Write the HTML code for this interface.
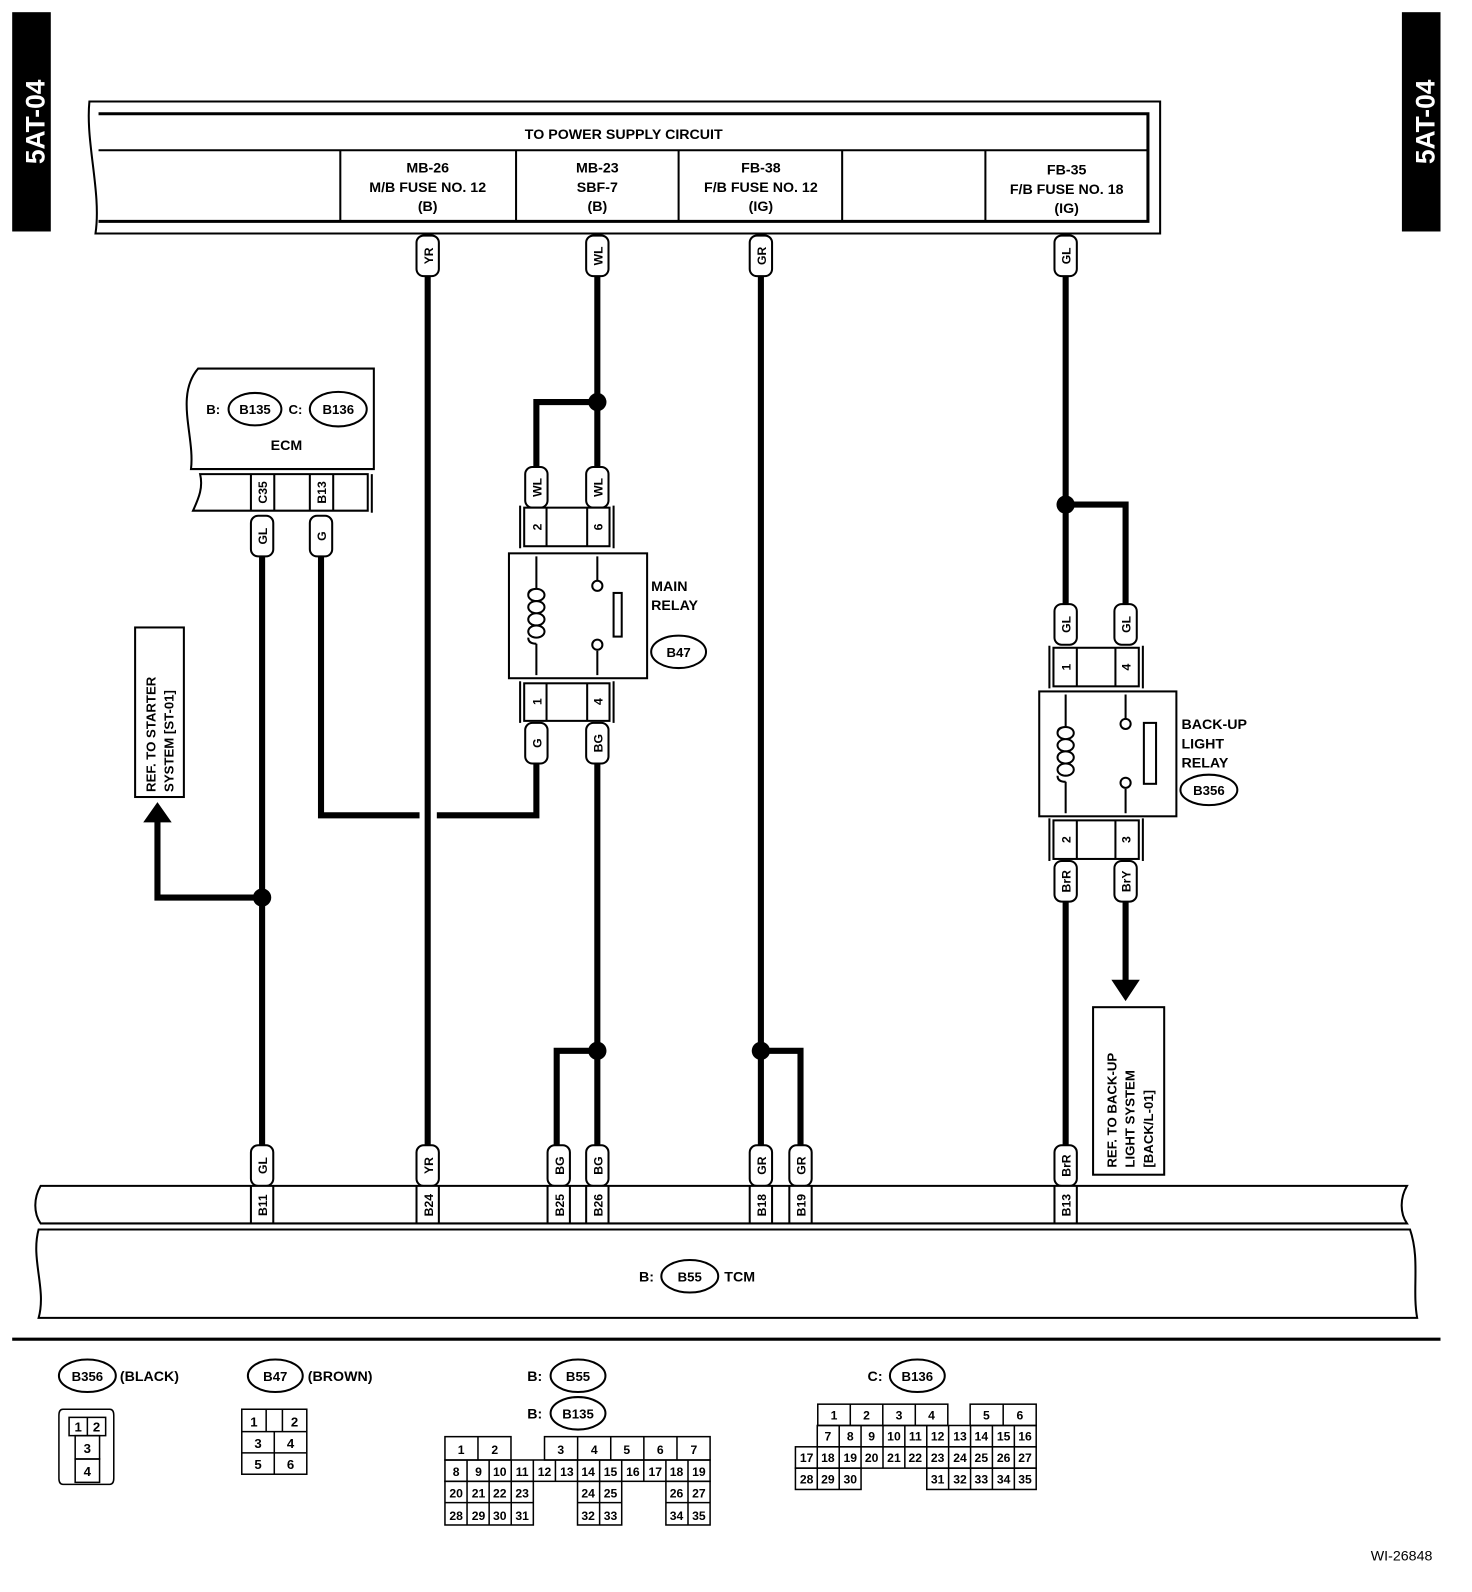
<!DOCTYPE html>
<html><head><meta charset="utf-8"><style>
html,body{margin:0;padding:0;background:#fff}
svg{display:block}
text{font-family:"Liberation Sans",sans-serif;font-weight:bold;fill:#000}
</style></head><body>
<svg width="1472" height="1592" viewBox="0 0 1449 1568" preserveAspectRatio="none" xmlns="http://www.w3.org/2000/svg">
<g font-size="13">
<rect x="12" y="12" width="38" height="216" fill="#000"/>
<text transform="translate(44,120) rotate(-90)" text-anchor="middle" font-size="26" style="fill:#fff">5AT-04</text>
<rect x="1380" y="12" width="38" height="216" fill="#000"/>
<text transform="translate(1412,120) rotate(-90)" text-anchor="middle" font-size="26" style="fill:#fff">5AT-04</text>

<path d="M88,100 L1142,100 L1142,230 L94,230 C100,190 84,140 88,100 Z" fill="none" stroke="#000" stroke-width="2"/>
<path d="M97,112 L1130,112 L1130,218 L97,218" fill="none" stroke="#000" stroke-width="3"/>
<line x1="97" y1="148" x2="1130" y2="148" stroke="#000" stroke-width="2"/>
<g stroke="#000" stroke-width="2">
<line x1="335" y1="148" x2="335" y2="218"/><line x1="508" y1="148" x2="508" y2="218"/>
<line x1="668" y1="148" x2="668" y2="218"/><line x1="829" y1="148" x2="829" y2="218"/>
<line x1="970" y1="148" x2="970" y2="218"/>
</g>
<g text-anchor="middle" font-size="14">
<text x="614" y="137">TO POWER SUPPLY CIRCUIT</text>
<text x="421" y="170">MB-26</text><text x="421" y="189">M/B FUSE NO. 12</text><text x="421" y="208">(B)</text>
<text x="588" y="170">MB-23</text><text x="588" y="189">SBF-7</text><text x="588" y="208">(B)</text>
<text x="749" y="170">FB-38</text><text x="749" y="189">F/B FUSE NO. 12</text><text x="749" y="208">(IG)</text>
<text x="1050" y="172">FB-35</text><text x="1050" y="191">F/B FUSE NO. 18</text><text x="1050" y="210">(IG)</text>
</g>

<g stroke="#000" stroke-width="6" fill="none">
<line x1="421" y1="270" x2="421" y2="1130"/>
<line x1="588" y1="270" x2="588" y2="462"/>
<polyline points="528,462 528,396 588,396"/>
<line x1="749" y1="270" x2="749" y2="1130"/>
<line x1="1049" y1="270" x2="1049" y2="597"/>
<polyline points="1049,497 1108,497 1108,597"/>
<line x1="258" y1="546" x2="258" y2="1130"/>
<polyline points="316,546 316,803 413,803"/>
<polyline points="430,803 528,803 528,750"/>
<polyline points="258,884 155,884 155,808"/>
<line x1="588" y1="750" x2="588" y2="1130"/>
<polyline points="588,1035 548,1035 548,1130"/>
<polyline points="749,1035 788,1035 788,1130"/>
<line x1="1049" y1="886" x2="1049" y2="1130"/>
<line x1="1108" y1="886" x2="1108" y2="968"/>
</g>
<polygon points="141,810 169,810 155,790" fill="#000"/>
<polygon points="1094,965 1122,965 1108,986" fill="#000"/>
<g fill="#000">
<circle cx="588" cy="396" r="9"/><circle cx="1049" cy="497" r="9"/>
<circle cx="258" cy="884" r="9"/><circle cx="588" cy="1035" r="9"/><circle cx="749" cy="1035" r="9"/>
</g>

<g font-size="12">
<g fill="#fff" stroke="#000" stroke-width="2">
<rect x="410" y="232" width="22" height="40" rx="7"/><rect x="577" y="232" width="22" height="40" rx="7"/>
<rect x="738" y="232" width="22" height="40" rx="7"/><rect x="1038" y="232" width="22" height="40" rx="7"/>
<rect x="517" y="460" width="22" height="40" rx="7"/><rect x="577" y="460" width="22" height="40" rx="7"/>
<rect x="247" y="508" width="22" height="40" rx="7"/><rect x="305" y="508" width="22" height="40" rx="7"/>
<rect x="517" y="712" width="22" height="40" rx="7"/><rect x="577" y="712" width="22" height="40" rx="7"/>
<rect x="1038" y="595" width="22" height="40" rx="7"/><rect x="1097" y="595" width="22" height="40" rx="7"/>
<rect x="1038" y="848" width="22" height="40" rx="7"/><rect x="1097" y="848" width="22" height="40" rx="7"/>
<rect x="247" y="1128" width="22" height="40" rx="7"/><rect x="410" y="1128" width="22" height="40" rx="7"/>
<rect x="539" y="1128" width="22" height="40" rx="7"/><rect x="577" y="1128" width="22" height="40" rx="7"/>
<rect x="738" y="1128" width="22" height="40" rx="7"/><rect x="777" y="1128" width="22" height="40" rx="7"/>
<rect x="1038" y="1128" width="22" height="40" rx="7"/>
</g>
<g text-anchor="middle">
<text transform="translate(426,252) rotate(-90)">YR</text>
<text transform="translate(593,252) rotate(-90)">WL</text>
<text transform="translate(754,252) rotate(-90)">GR</text>
<text transform="translate(1054,252) rotate(-90)">GL</text>
<text transform="translate(533,480) rotate(-90)">WL</text>
<text transform="translate(593,480) rotate(-90)">WL</text>
<text transform="translate(263,528) rotate(-90)">GL</text>
<text transform="translate(321,528) rotate(-90)">G</text>
<text transform="translate(533,732) rotate(-90)">G</text>
<text transform="translate(593,732) rotate(-90)">BG</text>
<text transform="translate(1054,615) rotate(-90)">GL</text>
<text transform="translate(1113,615) rotate(-90)">GL</text>
<text transform="translate(1054,868) rotate(-90)">BrR</text>
<text transform="translate(1113,868) rotate(-90)">BrY</text>
<text transform="translate(263,1148) rotate(-90)">GL</text>
<text transform="translate(426,1148) rotate(-90)">YR</text>
<text transform="translate(555,1148) rotate(-90)">BG</text>
<text transform="translate(593,1148) rotate(-90)">BG</text>
<text transform="translate(754,1148) rotate(-90)">GR</text>
<text transform="translate(793,1148) rotate(-90)">GR</text>
<text transform="translate(1054,1148) rotate(-90)">BrR</text>
</g>
</g>

<path d="M195,363 L368,363 L368,462 L188,462 C192,430 172,390 195,363 Z" fill="#fff" stroke="#000" stroke-width="2"/>
<text x="203" y="408" font-size="13">B:</text>
<ellipse cx="251" cy="403" rx="26" ry="16" fill="none" stroke="#000" stroke-width="2"/>
<text x="251" y="408" text-anchor="middle" font-size="13">B135</text>
<text x="284" y="408" font-size="13">C:</text>
<ellipse cx="333" cy="403" rx="28" ry="17" fill="none" stroke="#000" stroke-width="2"/>
<text x="333" y="408" text-anchor="middle" font-size="13">B136</text>
<text x="282" y="443" text-anchor="middle" font-size="14">ECM</text>
<path d="M197,467 L362,467 L362,503 L190,503 C196,490 200,480 197,467 Z" fill="#fff" stroke="#000" stroke-width="2"/>
<line x1="366" y1="467" x2="366" y2="505" stroke="#000" stroke-width="2"/>
<g stroke="#000" stroke-width="2"><line x1="247" y1="467" x2="247" y2="503"/><line x1="270" y1="467" x2="270" y2="503"/><line x1="305" y1="467" x2="305" y2="503"/><line x1="328" y1="467" x2="328" y2="503"/></g>
<text transform="translate(263,485) rotate(-90)" text-anchor="middle" font-size="12">C35</text>
<text transform="translate(321,485) rotate(-90)" text-anchor="middle" font-size="12">B13</text>

<rect x="133" y="618" width="48" height="167" fill="#fff" stroke="#000" stroke-width="2"/>
<text transform="translate(153,780) rotate(-90)" font-size="13">REF. TO STARTER</text>
<text transform="translate(171,780) rotate(-90)" font-size="13">SYSTEM [ST-01]</text>

<g stroke="#000" stroke-width="2" fill="#fff">
<rect x="516" y="500" width="84" height="38"/><line x1="512" y1="498" x2="512" y2="540"/><line x1="604" y1="498" x2="604" y2="540"/>
<line x1="538" y1="500" x2="538" y2="538"/><line x1="578" y1="500" x2="578" y2="538"/>
<rect x="501" y="545" width="136" height="123"/>
<rect x="516" y="673" width="84" height="37"/><line x1="512" y1="671" x2="512" y2="712"/><line x1="604" y1="671" x2="604" y2="712"/>
<line x1="538" y1="673" x2="538" y2="710"/><line x1="578" y1="673" x2="578" y2="710"/>
<path d="M528,548 L528,580 M528,634 L528,665 M588,548 L588,572 M588,641 L588,665" fill="none"/>
<path d="M528,580 q-8,0 -8,6 M520,586 a8,6 0 1 0 16,0 a8,6 0 1 0 -16,0 M520,598 a8,6 0 1 0 16,0 a8,6 0 1 0 -16,0 M520,610 a8,6 0 1 0 16,0 a8,6 0 1 0 -16,0 M520,622 a8,6 0 1 0 16,0 a8,6 0 1 0 -16,0 M520,628 q0,6 8,6" fill="none"/>
<circle cx="588" cy="577" r="5"/><circle cx="588" cy="635" r="5"/>
<rect x="604" y="584" width="8" height="43"/>
</g>
<g font-size="12" text-anchor="middle">
<text transform="translate(533,519) rotate(-90)">2</text><text transform="translate(593,519) rotate(-90)">6</text>
<text transform="translate(533,691) rotate(-90)">1</text><text transform="translate(593,691) rotate(-90)">4</text>
</g>
<text x="641" y="582" font-size="14">MAIN</text><text x="641" y="601" font-size="14">RELAY</text>
<ellipse cx="668" cy="642" rx="27" ry="16" fill="none" stroke="#000" stroke-width="2"/>
<text x="668" y="647" text-anchor="middle" font-size="13">B47</text>

<g stroke="#000" stroke-width="2" fill="#fff">
<rect x="1037" y="638" width="84" height="38"/><line x1="1033" y1="636" x2="1033" y2="678"/><line x1="1125" y1="636" x2="1125" y2="678"/>
<line x1="1060" y1="638" x2="1060" y2="676"/><line x1="1098" y1="638" x2="1098" y2="676"/>
<rect x="1023" y="681" width="135" height="123"/>
<rect x="1037" y="808" width="84" height="38"/><line x1="1033" y1="806" x2="1033" y2="848"/><line x1="1125" y1="806" x2="1125" y2="848"/>
<line x1="1060" y1="808" x2="1060" y2="846"/><line x1="1098" y1="808" x2="1098" y2="846"/>
<path d="M1049,684 L1049,716 M1049,770 L1049,801 M1108,684 L1108,708 M1108,777 L1108,801" fill="none"/>
<path d="M1049,716 q-8,0 -8,6 M1041,722 a8,6 0 1 0 16,0 a8,6 0 1 0 -16,0 M1041,734 a8,6 0 1 0 16,0 a8,6 0 1 0 -16,0 M1041,746 a8,6 0 1 0 16,0 a8,6 0 1 0 -16,0 M1041,758 a8,6 0 1 0 16,0 a8,6 0 1 0 -16,0 M1041,764 q0,6 8,6" fill="none"/>
<circle cx="1108" cy="713" r="5"/><circle cx="1108" cy="771" r="5"/>
<rect x="1126" y="712" width="12" height="60"/>
</g>
<g font-size="12" text-anchor="middle">
<text transform="translate(1054,657) rotate(-90)">1</text><text transform="translate(1113,657) rotate(-90)">4</text>
<text transform="translate(1054,827) rotate(-90)">2</text><text transform="translate(1113,827) rotate(-90)">3</text>
</g>
<text x="1163" y="718" font-size="14">BACK-UP</text><text x="1163" y="737" font-size="14">LIGHT</text><text x="1163" y="756" font-size="14">RELAY</text>
<ellipse cx="1190" cy="778" rx="28" ry="15" fill="none" stroke="#000" stroke-width="2"/>
<text x="1190" y="783" text-anchor="middle" font-size="13">B356</text>

<rect x="1076" y="992" width="70" height="165" fill="#fff" stroke="#000" stroke-width="2"/>
<text transform="translate(1099,1150) rotate(-90)" font-size="13">REF. TO BACK-UP</text>
<text transform="translate(1117,1150) rotate(-90)" font-size="13">LIGHT SYSTEM</text>
<text transform="translate(1135,1150) rotate(-90)" font-size="13">[BACK/L-01]</text>

<path d="M40,1168 L1385,1168 C1378,1180 1378,1195 1385,1205 L40,1205 C33,1195 33,1180 40,1168 Z" fill="#fff" stroke="#000" stroke-width="2"/>
<path d="M38,1211 L1388,1211 C1398,1240 1390,1270 1395,1298 L38,1298 C46,1270 30,1240 38,1211 Z" fill="#fff" stroke="#000" stroke-width="2"/>
<g stroke="#000" stroke-width="2">
<line x1="247" y1="1168" x2="247" y2="1205"/><line x1="269" y1="1168" x2="269" y2="1205"/>
<line x1="410" y1="1168" x2="410" y2="1205"/><line x1="432" y1="1168" x2="432" y2="1205"/>
<line x1="539" y1="1168" x2="539" y2="1205"/><line x1="561" y1="1168" x2="561" y2="1205"/>
<line x1="577" y1="1168" x2="577" y2="1205"/><line x1="599" y1="1168" x2="599" y2="1205"/>
<line x1="738" y1="1168" x2="738" y2="1205"/><line x1="760" y1="1168" x2="760" y2="1205"/>
<line x1="777" y1="1168" x2="777" y2="1205"/><line x1="799" y1="1168" x2="799" y2="1205"/>
<line x1="1038" y1="1168" x2="1038" y2="1205"/><line x1="1060" y1="1168" x2="1060" y2="1205"/>
</g>
<g font-size="12" text-anchor="middle">
<text transform="translate(263,1187) rotate(-90)">B11</text>
<text transform="translate(426,1187) rotate(-90)">B24</text>
<text transform="translate(555,1187) rotate(-90)">B25</text>
<text transform="translate(593,1187) rotate(-90)">B26</text>
<text transform="translate(754,1187) rotate(-90)">B18</text>
<text transform="translate(793,1187) rotate(-90)">B19</text>
<text transform="translate(1054,1187) rotate(-90)">B13</text>
</g>
<text x="629" y="1262" font-size="14">B:</text>
<ellipse cx="679" cy="1257" rx="28" ry="16" fill="none" stroke="#000" stroke-width="2"/>
<text x="679" y="1262" text-anchor="middle" font-size="13">B55</text>
<text x="713" y="1262" font-size="14">TCM</text>

<line x1="12" y1="1319" x2="1418" y2="1319" stroke="#000" stroke-width="3"/>

<ellipse cx="86" cy="1355" rx="28" ry="16" fill="none" stroke="#000" stroke-width="2"/>
<text x="86" y="1360" text-anchor="middle" font-size="13">B356</text>
<text x="118" y="1360" font-size="14">(BLACK)</text>
<ellipse cx="271" cy="1355" rx="27" ry="16" fill="none" stroke="#000" stroke-width="2"/>
<text x="271" y="1360" text-anchor="middle" font-size="13">B47</text>
<text x="303" y="1360" font-size="14">(BROWN)</text>
<text x="519" y="1360" font-size="14">B:</text>
<ellipse cx="569" cy="1355" rx="27" ry="16" fill="none" stroke="#000" stroke-width="2"/>
<text x="569" y="1360" text-anchor="middle" font-size="13">B55</text>
<text x="519" y="1397" font-size="14">B:</text>
<ellipse cx="569" cy="1392" rx="27" ry="16" fill="none" stroke="#000" stroke-width="2"/>
<text x="569" y="1397" text-anchor="middle" font-size="13">B135</text>
<text x="854" y="1360" font-size="14">C:</text>
<ellipse cx="903" cy="1355" rx="27" ry="16" fill="none" stroke="#000" stroke-width="2"/>
<text x="903" y="1360" text-anchor="middle" font-size="13">B136</text>

<g fill="none" stroke="#000" stroke-width="1.5">
<path d="M62,1388 L108,1388 Q112,1388 112,1394 L112,1456 Q112,1462 108,1462 L62,1462 Q58,1462 58,1456 L58,1394 Q58,1388 62,1388 Z"/>
<rect x="68" y="1396" width="36" height="18"/><line x1="86" y1="1396" x2="86" y2="1414"/>
<rect x="74" y="1414" width="24" height="23"/><rect x="74" y="1437" width="24" height="23"/>
<rect x="238" y="1388" width="64" height="64"/>
<line x1="238" y1="1410" x2="302" y2="1410"/><line x1="238" y1="1431" x2="302" y2="1431"/>
<line x1="270" y1="1410" x2="270" y2="1452"/><line x1="262" y1="1388" x2="262" y2="1410"/><line x1="278" y1="1388" x2="278" y2="1410"/>
<rect x="438" y="1415" width="65" height="23"/><line x1="470.5" y1="1415" x2="470.5" y2="1438"/>
<rect x="536" y="1415" width="163" height="23"/>
<line x1="568.6" y1="1415" x2="568.6" y2="1438"/><line x1="601.2" y1="1415" x2="601.2" y2="1438"/><line x1="633.8" y1="1415" x2="633.8" y2="1438"/><line x1="666.4" y1="1415" x2="666.4" y2="1438"/>
<rect x="438" y="1438" width="261" height="21"/>
<rect x="438" y="1459" width="87" height="43"/><rect x="568.5" y="1459" width="43.5" height="43"/><rect x="655.5" y="1459" width="43.5" height="43"/>
<line x1="438" y1="1480" x2="525" y2="1480"/><line x1="568.5" y1="1480" x2="612" y2="1480"/><line x1="655.5" y1="1480" x2="699" y2="1480"/>
<path d="M459.75,1438V1502M481.5,1438V1502M503.25,1438V1502M525,1438V1459M546.75,1438V1459M568.5,1438V1459M590.25,1438V1502M612,1438V1459M633.75,1438V1459M655.5,1438V1459M677.25,1438V1502"/>
<rect x="805" y="1383" width="128" height="21"/><line x1="837" y1="1383" x2="837" y2="1404"/><line x1="869" y1="1383" x2="869" y2="1404"/><line x1="901" y1="1383" x2="901" y2="1404"/>
<rect x="955" y="1383" width="65" height="21"/><line x1="987.5" y1="1383" x2="987.5" y2="1404"/>
<rect x="804.5" y="1404" width="215.5" height="21"/>
<rect x="783" y="1425" width="237" height="21"/>
<rect x="783" y="1446" width="64.6" height="21"/><rect x="912.3" y="1446" width="107.7" height="21"/>
<path d="M826.1,1404V1467M847.6,1404V1446M869.2,1404V1446M890.7,1404V1446M912.3,1404V1446M933.8,1404V1467M955.4,1404V1467M976.9,1404V1467M998.5,1404V1467M804.5,1425V1467"/>
</g>
<g font-size="13" text-anchor="middle" style="font-weight:normal">
<text x="77" y="1410">1</text><text x="95" y="1410">2</text><text x="86" y="1431">3</text><text x="86" y="1454">4</text>
<text x="250" y="1405">1</text><text x="290" y="1405">2</text><text x="254" y="1426">3</text><text x="286" y="1426">4</text><text x="254" y="1447">5</text><text x="286" y="1447">6</text>
</g>
<g font-size="12" text-anchor="middle" style="font-weight:normal">
<text x="454" y="1432">1</text><text x="487" y="1432">2</text><text x="552" y="1432">3</text><text x="585" y="1432">4</text><text x="617" y="1432">5</text><text x="650" y="1432">6</text><text x="683" y="1432">7</text>
<text x="449" y="1454">8</text><text x="471" y="1454">9</text><text x="492" y="1454">10</text><text x="514" y="1454">11</text><text x="536" y="1454">12</text><text x="558" y="1454">13</text><text x="579" y="1454">14</text><text x="601" y="1454">15</text><text x="623" y="1454">16</text><text x="645" y="1454">17</text><text x="666" y="1454">18</text><text x="688" y="1454">19</text>
<text x="449" y="1475">20</text><text x="471" y="1475">21</text><text x="492" y="1475">22</text><text x="514" y="1475">23</text><text x="579" y="1475">24</text><text x="601" y="1475">25</text><text x="666" y="1475">26</text><text x="688" y="1475">27</text>
<text x="449" y="1497">28</text><text x="471" y="1497">29</text><text x="492" y="1497">30</text><text x="514" y="1497">31</text><text x="579" y="1497">32</text><text x="601" y="1497">33</text><text x="666" y="1497">34</text><text x="688" y="1497">35</text>
<text x="821" y="1398">1</text><text x="853" y="1398">2</text><text x="885" y="1398">3</text><text x="917" y="1398">4</text><text x="971" y="1398">5</text><text x="1004" y="1398">6</text>
<text x="815" y="1419">7</text><text x="837" y="1419">8</text><text x="858" y="1419">9</text><text x="880" y="1419">10</text><text x="901" y="1419">11</text><text x="923" y="1419">12</text><text x="945" y="1419">13</text><text x="966" y="1419">14</text><text x="988" y="1419">15</text><text x="1009" y="1419">16</text>
<text x="794" y="1440">17</text><text x="815" y="1440">18</text><text x="837" y="1440">19</text><text x="858" y="1440">20</text><text x="880" y="1440">21</text><text x="901" y="1440">22</text><text x="923" y="1440">23</text><text x="945" y="1440">24</text><text x="966" y="1440">25</text><text x="988" y="1440">26</text><text x="1009" y="1440">27</text>
<text x="794" y="1461">28</text><text x="815" y="1461">29</text><text x="837" y="1461">30</text><text x="923" y="1461">31</text><text x="945" y="1461">32</text><text x="966" y="1461">33</text><text x="988" y="1461">34</text><text x="1009" y="1461">35</text>
</g>
<text x="1410" y="1537" text-anchor="end" font-size="14" style="font-weight:normal">WI-26848</text>
</g>
</svg>
</body></html>
